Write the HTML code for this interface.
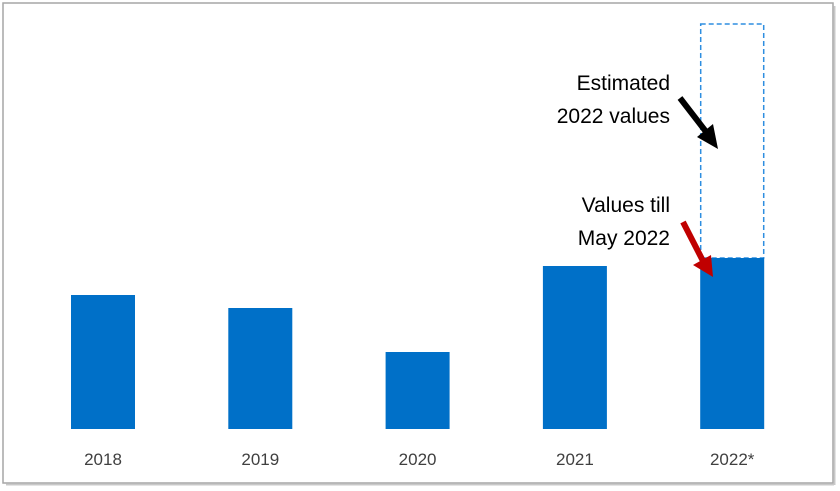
<!DOCTYPE html>
<html><head><meta charset="utf-8"><style>
html,body{margin:0;padding:0;background:#fff;}
svg{display:block;font-family:"Liberation Sans",sans-serif;}
</style></head><body>
<svg width="840" height="491" viewBox="0 0 840 491">
<rect x="3" y="3" width="830" height="480" fill="#fff" stroke="#a6a6a6" stroke-width="1.5"/>
<line x1="834.5" y1="6" x2="834.5" y2="485" stroke="#c8c8c8" stroke-width="2"/>
<line x1="6" y1="484.5" x2="834" y2="484.5" stroke="#c8c8c8" stroke-width="2"/>
<g id="bars"></g>
<g id="labels"></g>
<g>
<text x="670" y="90" text-anchor="end" font-size="21" fill="#000">Estimated</text>
<text x="670" y="123" text-anchor="end" font-size="21" fill="#000">2022 values</text>
<text x="670" y="212" text-anchor="end" font-size="21" fill="#000">Values till</text>
<text x="670" y="245" text-anchor="end" font-size="21" fill="#000">May 2022</text>
<g>
<line x1="680" y1="98" x2="707" y2="133" stroke="#000" stroke-width="6"/>
<polygon points="718,149 697,137 713,124" fill="#000"/>
</g>
<g>
<line x1="683" y1="222" x2="703" y2="261" stroke="#c00000" stroke-width="6"/>
<polygon points="713,277 693,265 711,255" fill="#c00000"/>
</g>
</g>
</svg>
<script>
const categories = ["2018","2019","2020","2021","2022*"];
const values = [134,121,77,163,171];
const estimated = [null,null,null,null,405];
const baseY = 429, x0 = 71, step = 157.3, bw = 64;
function yOf(v){ return baseY - v; }
function xOf(i){ return x0 + i*step; }
const NS = "http://www.w3.org/2000/svg";
const bars = document.getElementById('bars');
const labels = document.getElementById('labels');
categories.forEach((c,i)=>{
  if(estimated[i]!=null){
    const d=document.createElementNS(NS,'rect');
    d.setAttribute('x',xOf(i)+0.5);d.setAttribute('y',yOf(estimated[i]));
    d.setAttribute('width',bw-1);d.setAttribute('height',estimated[i]-values[i]);
    d.setAttribute('fill','none');d.setAttribute('stroke','#2e8ee0');
    d.setAttribute('stroke-width','1.5');d.setAttribute('stroke-dasharray','5,3');
    
    
    bars.appendChild(d);
  }
  const r=document.createElementNS(NS,'rect');
  r.setAttribute('x',xOf(i));r.setAttribute('y',yOf(values[i]));
  r.setAttribute('width',bw);r.setAttribute('height',values[i]);
  r.setAttribute('fill','#0070c8');
  
  
  bars.appendChild(r);
  const t=document.createElementNS(NS,'text');
  t.setAttribute('x',xOf(i)+bw/2);t.setAttribute('y',465);
  t.setAttribute('text-anchor','middle');t.setAttribute('font-size','17');
  t.setAttribute('fill','#404040');
  t.textContent=c;
  
  
  labels.appendChild(t);
});
</script>
</body></html>
